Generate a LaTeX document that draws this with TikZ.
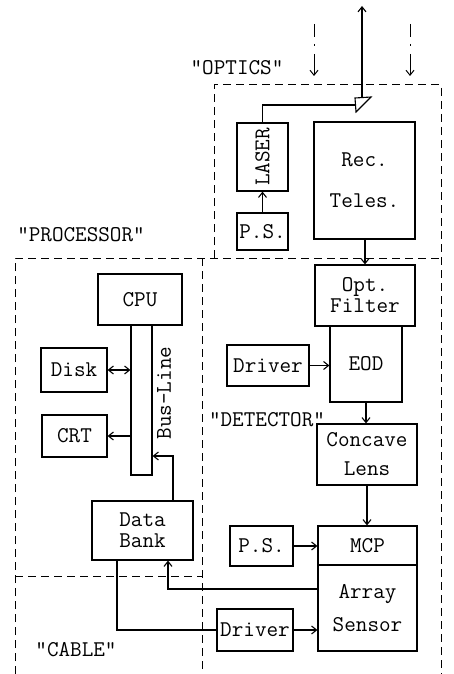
\documentclass[tikz,border=0pt]{standalone}
\usepackage{fontspec}
\usetikzlibrary{arrows.meta,calc}
\newcommand\twfont{\ttfamily\fontsize{22.5}{22}\selectfont}
\begin{document}
\begin{tikzpicture}[x=1pt,y=-1pt,
  box/.style={draw,line width=1.2pt,inner sep=0pt,align=center,font=\twfont},
  lbl/.style={inner sep=0pt,font=\twfont},
  conn/.style={line width=1.1pt},
  tip/.tip={Straight Barb[length=5pt,width=8pt]},
  arr/.style={conn,-tip},
  darr/.style={conn,tip-tip},
  dashbox/.style={line width=1pt,dash pattern=on 8pt off 5pt},
  ray/.style={line width=1pt,dash pattern=on 13pt off 7pt on 2pt off 8pt on 30pt off 1pt,-tip}]
\useasboundingbox (0,0) rectangle (454,674);

% dashed group outlines
\draw[dashbox] (214,258) -- (214,85) -- (441,85) -- (441,674);
\draw[dashbox] (15,674) -- (15,258) -- (441,258);
\draw[dashbox] (202,258) -- (202,674);
\draw[dashbox] (15,576) -- (202,576);

% group labels
\node[lbl] (optics) at (237,68) {"OPTICS"};
\node[lbl] (processor) at (81,235) {"PROCESSOR"};
\node[lbl] (detector) at (267,420) {"DETECTOR"};
\node[lbl] (cable) at (76,650) {"CABLE"};

% optics
\node[box,minimum width=51pt,minimum height=68pt] (laser) at (262.5,157) {\rotatebox{90}{LASER}};
\node[box,minimum width=51pt,minimum height=37pt] (ps1) at (262.5,231.5) {P.S.};
\node[box,minimum width=101pt,minimum height=117pt] (rec) at (364.5,180.5) {Rec.\\[19pt]Teles.};
\draw[line width=1.1pt] (355,98) -- (371,97) -- (356,112) -- cycle;
\coordinate (triW) at (355,105);
\coordinate (triN) at (362,97.5);
\coordinate (beamtop) at (362,6);
\coordinate (r1s) at (314,24);
\coordinate (r1e) at (314,76);
\coordinate (r2s) at (410,24);
\coordinate (r2e) at (410,76);

% detector
\node[box,minimum width=100pt,minimum height=61pt] (opt) at (365,295.5) {Opt.\\[-1pt]Filter};
\node[box,minimum width=72pt,minimum height=76pt] (eod) at (366,364) {EOD};
\node[box,minimum width=82pt,minimum height=41pt] (drv1) at (268,365.5) {Driver};
\node[box,minimum width=100pt,minimum height=61pt] (conc) at (367,454.5) {Concave\\[7pt]Lens};
\node[box,minimum width=99pt,minimum height=39pt] (mcp) at (367.5,545.5) {MCP};
\node[box,minimum width=99pt,minimum height=86pt] (array) at (367.5,608) {Array\\[11pt]Sensor};
\node[box,minimum width=63pt,minimum height=40pt] (ps2) at (261.5,546) {P.S.};
\node[box,minimum width=76pt,minimum height=42pt] (drv2) at (255,630) {Driver};

% processor
\node[box,minimum width=84pt,minimum height=51pt] (cpu) at (140,299.5) {CPU};
\node[box,minimum width=21pt,minimum height=150pt] (bus) at (141.5,400) {};
\node[lbl,rotate=90] (buslbl) at (164,393) {Bus-Line};
\node[box,minimum width=66pt,minimum height=44pt] (disk) at (74,370) {Disk};
\node[box,minimum width=65pt,minimum height=42pt] (crt) at (74.5,436) {CRT};
\node[box,minimum width=101pt,minimum height=59pt] (db) at (142.5,530.5) {Data\\[-1pt]Bank};

% connectors
\draw[arr] (ps1.north) -- (laser.south);
\draw[conn] (laser.north) |- (triW);
\draw[arr] (triN) -- (beamtop);
\draw[ray] (r1s) -- (r1e);
\draw[ray] (r2s) -- (r2e);
\draw[arr] (rec.south -| opt.north) -- (opt.north);
\draw[arr] (drv1.east) -- (drv1.east -| eod.west);
\draw[arr] (eod.south) -- (eod.south |- conc.north);
\draw[arr] (conc.south) -- (conc.south |- mcp.north);
\draw[arr] (ps2.east) -- (ps2.east -| mcp.west);
\draw[arr] (drv2.east) -- (drv2.east -| array.west);
\draw[arr] ([yshift=19pt]array.west) -| ([xshift=25.5pt]db.south);
\draw[conn] ([xshift=-25.5pt]db.south) |- (drv2.west);
\draw[arr] ([xshift=30.5pt]db.north) |- ([yshift=-56pt]bus.east);
\draw[darr] (disk.east) -- (disk.east -| bus.west);
\draw[arr] (crt.east -| bus.west) -- (crt.east);
\end{tikzpicture}
\end{document}
